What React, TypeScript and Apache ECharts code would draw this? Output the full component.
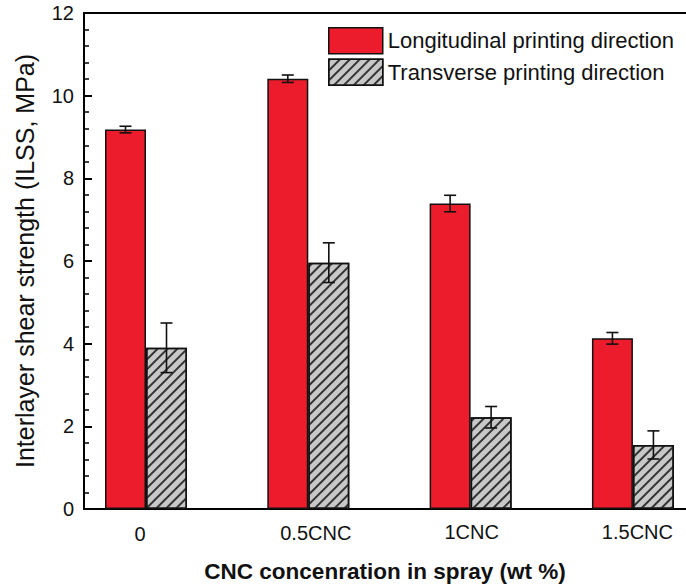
import React, { useEffect, useRef } from "react";
import * as echarts from "echarts";

const categories = ["0", "0.5CNC", "1CNC", "1.5CNC"];
const longitudinal = [9.18, 10.41, 7.39, 4.13];
const longitudinalErr = [0.08, 0.09, 0.2, 0.14];
const transverse = [3.9, 5.96, 2.22, 1.55];
const transverseErr = [0.6, 0.48, 0.26, 0.34];
const yTicks = [0, 2, 4, 6, 8, 10, 12];

const FONT = "'Liberation Sans', Arial, Helvetica, sans-serif";
const BAR_W = 41;

function errorSeries(name: string, vals: number[], errs: number[], dx: number) {
  return {
    type: "custom",
    name,
    silent: true,
    z: 10,
    data: vals.map((v, i) => [i, v, errs[i]]),
    renderItem: (params: any, api: any) => {
      const x = api.value(0);
      const v = api.value(1);
      const e = api.value(2);
      const top = api.coord([x, v + e]);
      const bot = api.coord([x, v - e]);
      const cx = top[0] + dx;
      const cap = 6;
      const style = { stroke: "#111", lineWidth: 1.6 };
      return {
        type: "group",
        children: [
          { type: "line", shape: { x1: cx, y1: top[1], x2: cx, y2: bot[1] }, style },
          { type: "line", shape: { x1: cx - cap, y1: top[1], x2: cx + cap, y2: top[1] }, style },
          { type: "line", shape: { x1: cx - cap, y1: bot[1], x2: cx + cap, y2: bot[1] }, style },
        ],
      };
    },
  };
}

export default function App() {
  const ref = useRef<HTMLDivElement>(null);
  useEffect(() => {
    if (!ref.current) return;
    const chart = echarts.init(ref.current, null, { renderer: "svg" });
    const xMin = -0.382;
    const xMax = 3.327;
    const lab = { fontSize: 20, fontFamily: FONT, color: "#111", lineHeight: 22 };
    const rich: any = {
      r0: { ...lab, padding: [4, 12, 0, 0] },
      r1: { ...lab, padding: [2, 0, 0, 15] },
      r2: { ...lab, padding: [0, 0, 0, 2] },
      r3: { ...lab, padding: [0, 0, 0, 9] },
    };
    const option: any = {
      animation: false,
      backgroundColor: "#fff",
      textStyle: { fontFamily: FONT },
      grid: { left: 84, right: 0, top: 13, bottom: 78 },
      legend: {
        orient: "vertical",
        left: 328,
        top: 27,
        padding: 0,
        itemWidth: 54,
        itemHeight: 26,
        itemGap: 4,
        icon: "rect",
        data: ["Longitudinal printing direction", "Transverse printing direction"],
        textStyle: { fontSize: 22, color: "#111", fontFamily: FONT },
        itemStyle: { borderColor: "#111", borderWidth: 1.5 },
      },
      xAxis: [
        {
          type: "value",
          min: xMin,
          max: xMax,
          splitLine: { show: false },
          axisTick: { show: false },
          axisLine: { show: true, onZero: false, lineStyle: { color: "#000", width: 2 } },
          axisLabel: {
            customValues: [0, 1, 2, 3],
            margin: 12,
            formatter: (v: number) => {
              const i = Math.round(v);
              return `{r${i}|${categories[i]}}`;
            },
            rich,
          },
          name: "CNC concenration in spray (wt %)",
          nameLocation: "middle",
          nameGap: 51,
          nameTextStyle: { fontSize: 22.5, fontWeight: "bold", color: "#111", fontFamily: FONT },
        },
        {
          type: "value",
          position: "top",
          min: xMin,
          max: xMax,
          splitLine: { show: false },
          axisTick: { show: false },
          axisLabel: { show: false },
          axisLine: { show: true, onZero: false, lineStyle: { color: "#000", width: 2 } },
        },
      ],
      yAxis: {
        type: "value",
        min: yTicks[0],
        max: yTicks[yTicks.length - 1],
        interval: yTicks[1] - yTicks[0],
        splitLine: { show: false },
        axisLine: { show: true, onZero: false, lineStyle: { color: "#000", width: 2 } },
        axisTick: { show: true, inside: true, length: 8, lineStyle: { color: "#000", width: 2 } },
        minorTick: { show: true, splitNumber: 5, length: 5, lineStyle: { color: "#000", width: 1.5 } },
        axisLabel: { fontSize: 20, color: "#111", margin: 10, fontFamily: FONT },
        name: "Interlayer shear strength (ILSS, MPa)",
        nameLocation: "middle",
        nameRotate: 90,
        nameGap: 47,
        nameTextStyle: { fontSize: 25, color: "#111", fontFamily: FONT },
      },
      series: [
        {
          type: "bar",
          name: "Longitudinal printing direction",
          data: longitudinal.map((v, i) => [i, v]),
          barWidth: BAR_W,
          barGap: "0%",
          itemStyle: { color: "#ec1c2c", borderColor: "#111", borderWidth: 1.5 },
        },
        {
          type: "bar",
          name: "Transverse printing direction",
          data: transverse.map((v, i) => [i, v]),
          barWidth: BAR_W,
          barGap: "0%",
          itemStyle: {
            color: "#c8c8c8",
            borderColor: "#111",
            borderWidth: 1.5,
            decal: {
              symbol: "rect",
              symbolSize: 1,
              dashArrayX: [1, 0],
              dashArrayY: [1.2, 4.2],
              rotation: -Math.PI / 4,
              color: "#333",
            },
          },
        },
        errorSeries("errL", longitudinal, longitudinalErr, -BAR_W / 2),
        errorSeries("errT", transverse, transverseErr, BAR_W / 2),
      ],
    };
    chart.setOption(option);
    return () => chart.dispose();
  }, []);
  return (
    <div
      ref={ref}
      style={{ position: "fixed", left: 0, top: 0, width: 686, height: 588, background: "#fff" }}
    />
  );
}
